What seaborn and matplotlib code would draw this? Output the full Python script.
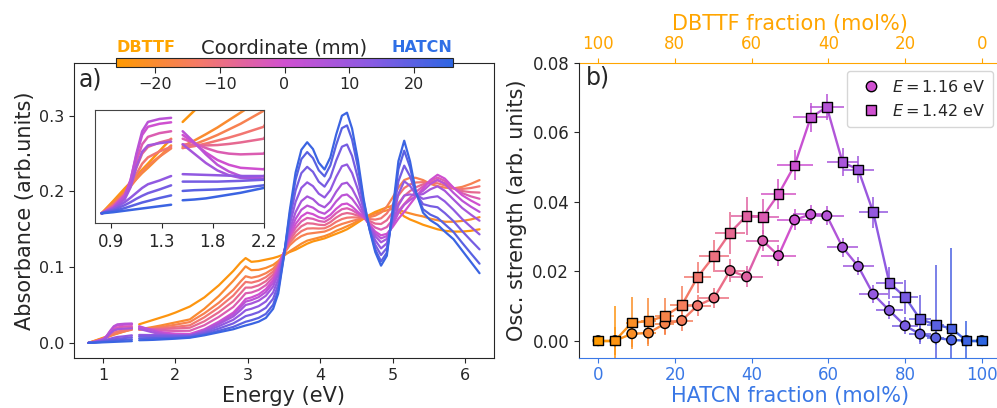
import matplotlib

matplotlib.use("Agg")

import matplotlib.pyplot as plt
import numpy as np
import pandas as pd
import seaborn as sns
from matplotlib.cm import ScalarMappable
from matplotlib.collections import LineCollection
from matplotlib.colors import LinearSegmentedColormap, Normalize
from matplotlib.lines import Line2D

# ---- panel a: absorbance spectra ----
energy_low = [0.80, 0.90, 1.00, 1.05, 1.10, 1.15, 1.20, 1.30, 1.40]
energy_high = [1.50, 1.60, 1.70, 1.80, 1.90, 2.00, 2.20,
               2.40, 2.60, 2.80, 2.90, 2.97, 3.05, 3.15,
               3.25, 3.35, 3.42, 3.50, 3.58, 3.66, 3.74,
               3.82, 3.90, 3.98, 4.06, 4.14, 4.22, 4.30,
               4.37, 4.44, 4.52, 4.60, 4.68, 4.76, 4.84,
               4.92, 5.00, 5.08, 5.16, 5.24, 5.32, 5.42,
               5.52, 5.62, 5.72, 5.84, 5.96, 6.08, 6.20]
coordinates = [-24, -20, -16, -12, -8, -4, 0, 4, 8, 12, 16, 20, 24]

abs_m24 = [0.000, 0.0033, 0.0067, 0.0083, 0.0100, 0.0117, 0.0133, 0.0167, 0.0200,
           0.0245, 0.0275, 0.0305, 0.0335, 0.0365, 0.0400, 0.0480,
           0.0600, 0.0760, 0.0950, 0.1060, 0.1120, 0.1070, 0.1080,
           0.1100, 0.1120, 0.1140, 0.1170, 0.1200, 0.1230, 0.1270,
           0.1310, 0.1340, 0.1360, 0.1380, 0.1410, 0.1440, 0.1470,
           0.1500, 0.1540, 0.1590, 0.1640, 0.1690, 0.1730, 0.1760,
           0.1790, 0.1810, 0.1740, 0.1670, 0.1630, 0.1600, 0.1560,
           0.1530, 0.1500, 0.1480, 0.1470, 0.1470, 0.1480, 0.1500]
abs_m20 = [0.000, 0.0030, 0.0060, 0.0076, 0.0092, 0.0108, 0.0122, 0.0152, 0.0182,
           0.0180, 0.0195, 0.0212, 0.0230, 0.0250, 0.0270, 0.0310,
           0.0450, 0.0620, 0.0820, 0.0930, 0.1010, 0.0960, 0.0965,
           0.0990, 0.1030, 0.1080, 0.1150, 0.1210, 0.1260, 0.1310,
           0.1350, 0.1370, 0.1390, 0.1410, 0.1440, 0.1480, 0.1510,
           0.1540, 0.1570, 0.1610, 0.1650, 0.1680, 0.1710, 0.1730,
           0.1750, 0.1770, 0.1760, 0.1730, 0.1710, 0.1690, 0.1670,
           0.1640, 0.1620, 0.1600, 0.1600, 0.1610, 0.1630, 0.1660]
abs_m16 = [0.000, 0.0025, 0.0055, 0.0072, 0.0092, 0.0112, 0.0128, 0.0152, 0.0174,
           0.0175, 0.0185, 0.0197, 0.0210, 0.0225, 0.0240, 0.0275,
           0.0390, 0.0530, 0.0700, 0.0810, 0.0880, 0.0860, 0.0880,
           0.0920, 0.0980, 0.1060, 0.1180, 0.1290, 0.1360, 0.1410,
           0.1440, 0.1450, 0.1460, 0.1470, 0.1500, 0.1540, 0.1570,
           0.1590, 0.1610, 0.1630, 0.1650, 0.1660, 0.1680, 0.1720,
           0.1800, 0.1920, 0.2050, 0.2150, 0.2180, 0.2180, 0.2150,
           0.2100, 0.2070, 0.2050, 0.2040, 0.2060, 0.2100, 0.2150]
abs_m12 = [0.000, 0.0022, 0.0052, 0.0075, 0.0105, 0.0133, 0.0150, 0.0166, 0.0178,
           0.0175, 0.0180, 0.0187, 0.0195, 0.0203, 0.0212, 0.0232,
           0.0338, 0.0468, 0.0625, 0.0733, 0.0805, 0.0795, 0.0820,
           0.0868, 0.0943, 0.1040, 0.1185, 0.1323, 0.1413, 0.1475,
           0.1510, 0.1513, 0.1510, 0.1513, 0.1548, 0.1598, 0.1635,
           0.1653, 0.1658, 0.1655, 0.1653, 0.1635, 0.1628, 0.1645,
           0.1710, 0.1823, 0.1948, 0.2045, 0.2093, 0.2118, 0.2123,
           0.2113, 0.2108, 0.2080, 0.2043, 0.2033, 0.2045, 0.2068]
abs_m8 = [0.000, 0.0020, 0.0050, 0.0080, 0.0122, 0.0160, 0.0178, 0.0190, 0.0198,
          0.0185, 0.0183, 0.0182, 0.0183, 0.0186, 0.0190, 0.0200,
          0.0285, 0.0405, 0.0550, 0.0655, 0.0730, 0.0730, 0.0760,
          0.0815, 0.0905, 0.1020, 0.1190, 0.1355, 0.1465, 0.1540,
          0.1580, 0.1575, 0.1560, 0.1555, 0.1595, 0.1655, 0.1700,
          0.1715, 0.1705, 0.1680, 0.1655, 0.1610, 0.1575, 0.1570,
          0.1620, 0.1725, 0.1845, 0.1940, 0.2005, 0.2055, 0.2095,
          0.2125, 0.2145, 0.2110, 0.2045, 0.2005, 0.1990, 0.1985]
abs_m4 = [0.000, 0.0018, 0.0050, 0.0085, 0.0140, 0.0185, 0.0205, 0.0215, 0.0220,
          0.0200, 0.0188, 0.0175, 0.0165, 0.0160, 0.0158, 0.0160,
          0.0233, 0.0343, 0.0475, 0.0578, 0.0655, 0.0665, 0.0700,
          0.0763, 0.0868, 0.1000, 0.1195, 0.1388, 0.1518, 0.1605,
          0.1650, 0.1638, 0.1610, 0.1598, 0.1643, 0.1713, 0.1765,
          0.1778, 0.1753, 0.1705, 0.1658, 0.1585, 0.1523, 0.1495,
          0.1530, 0.1628, 0.1743, 0.1835, 0.1918, 0.1993, 0.2068,
          0.2138, 0.2183, 0.2140, 0.2048, 0.1978, 0.1935, 0.1903]
abs_0 = [0.000, 0.0016, 0.0048, 0.0090, 0.0155, 0.0210, 0.0232, 0.0240, 0.0244,
         0.0210, 0.0188, 0.0163, 0.0143, 0.0130, 0.0122, 0.0118,
         0.0180, 0.0280, 0.0400, 0.0500, 0.0580, 0.0600, 0.0640,
         0.0710, 0.0830, 0.0980, 0.1200, 0.1420, 0.1570, 0.1670,
         0.1720, 0.1700, 0.1660, 0.1640, 0.1690, 0.1770, 0.1830,
         0.1840, 0.1800, 0.1730, 0.1660, 0.1560, 0.1470, 0.1420,
         0.1440, 0.1530, 0.1640, 0.1730, 0.1830, 0.1930, 0.2040,
         0.2150, 0.2220, 0.2170, 0.2050, 0.1950, 0.1880, 0.1820]
abs_p4 = [0.000, 0.0015, 0.0045, 0.0088, 0.0160, 0.0220, 0.0245, 0.0253, 0.0256,
          0.0220, 0.0190, 0.0158, 0.0130, 0.0112, 0.0100, 0.0093,
          0.0172, 0.0266, 0.0378, 0.0471, 0.0545, 0.0565, 0.0604,
          0.0672, 0.0792, 0.0947, 0.1195, 0.1453, 0.1638, 0.1758,
          0.1813, 0.1786, 0.1732, 0.1705, 0.1766, 0.1868, 0.1947,
          0.1960, 0.1903, 0.1799, 0.1684, 0.1554, 0.1443, 0.1380,
          0.1411, 0.1552, 0.1716, 0.1824, 0.1887, 0.1937, 0.2008,
          0.2097, 0.2154, 0.2100, 0.1982, 0.1877, 0.1799, 0.1730]
abs_p8 = [0.000, 0.0013, 0.0038, 0.0070, 0.0125, 0.0165, 0.0182, 0.0188, 0.0192,
          0.0185, 0.0160, 0.0135, 0.0115, 0.0102, 0.0095, 0.0090,
          0.0162, 0.0248, 0.0349, 0.0433, 0.0500, 0.0520, 0.0557,
          0.0623, 0.0743, 0.0904, 0.1189, 0.1496, 0.1726, 0.1872,
          0.1934, 0.1898, 0.1826, 0.1790, 0.1865, 0.1995, 0.2099,
          0.2116, 0.2037, 0.1889, 0.1715, 0.1546, 0.1408, 0.1328,
          0.1373, 0.1581, 0.1815, 0.1946, 0.1961, 0.1946, 0.1966,
          0.2028, 0.2068, 0.2009, 0.1894, 0.1782, 0.1694, 0.1613]
abs_p12 = [0.000, 0.0012, 0.0030, 0.0042, 0.0055, 0.0068, 0.0078, 0.0088, 0.0100,
           0.0105, 0.0104, 0.0103, 0.0102, 0.0101, 0.0100, 0.0100,
           0.0146, 0.0220, 0.0305, 0.0375, 0.0430, 0.0450, 0.0485,
           0.0547, 0.0667, 0.0838, 0.1179, 0.1562, 0.1862, 0.2048,
           0.2120, 0.2070, 0.1970, 0.1920, 0.2017, 0.2191, 0.2333,
           0.2356, 0.2243, 0.2027, 0.1763, 0.1534, 0.1354, 0.1248,
           0.1315, 0.1625, 0.1967, 0.2134, 0.2075, 0.1960, 0.1902,
           0.1922, 0.1936, 0.1869, 0.1758, 0.1636, 0.1532, 0.1433]
abs_p16 = [0.000, 0.0009, 0.0022, 0.0030, 0.0039, 0.0047, 0.0054, 0.0064, 0.0075,
           0.0085, 0.0085, 0.0085, 0.0085, 0.0086, 0.0087, 0.0090,
           0.0128, 0.0189, 0.0257, 0.0312, 0.0353, 0.0373, 0.0406,
           0.0463, 0.0583, 0.0766, 0.1168, 0.1635, 0.2012, 0.2242,
           0.2325, 0.2259, 0.2128, 0.2063, 0.2184, 0.2407, 0.2591,
           0.2620, 0.2470, 0.2179, 0.1816, 0.1521, 0.1295, 0.1160,
           0.1252, 0.1673, 0.2134, 0.2341, 0.2201, 0.1976, 0.1832,
           0.1806, 0.1791, 0.1715, 0.1608, 0.1476, 0.1354, 0.1235]
abs_p20 = [0.000, 0.0006, 0.0014, 0.0019, 0.0024, 0.0029, 0.0033, 0.0041, 0.0048,
           0.0060, 0.0062, 0.0063, 0.0064, 0.0066, 0.0068, 0.0075,
           0.0111, 0.0160, 0.0211, 0.0251, 0.0279, 0.0299, 0.0330,
           0.0383, 0.0503, 0.0696, 0.1157, 0.1704, 0.2155, 0.2427,
           0.2520, 0.2440, 0.2279, 0.2199, 0.2344, 0.2613, 0.2836,
           0.2872, 0.2686, 0.2323, 0.1866, 0.1508, 0.1238, 0.1076,
           0.1191, 0.1719, 0.2294, 0.2538, 0.2320, 0.1990, 0.1765,
           0.1694, 0.1652, 0.1568, 0.1465, 0.1322, 0.1183, 0.1046]
abs_p24 = [0.000, 0.0003, 0.0007, 0.0009, 0.0011, 0.0013, 0.0015, 0.0019, 0.0023,
           0.0035, 0.0037, 0.0040, 0.0045, 0.0050, 0.0055, 0.0068,
           0.0100, 0.0140, 0.0180, 0.0210, 0.0230, 0.0250, 0.0280,
           0.0330, 0.0450, 0.0650, 0.1150, 0.1750, 0.2250, 0.2550,
           0.2650, 0.2560, 0.2380, 0.2290, 0.2450, 0.2750, 0.3000,
           0.3040, 0.2830, 0.2420, 0.1900, 0.1500, 0.1200, 0.1020,
           0.1150, 0.1750, 0.2400, 0.2670, 0.2400, 0.2000, 0.1720,
           0.1620, 0.1560, 0.1470, 0.1370, 0.1220, 0.1070, 0.0920]

# ---- panel b: oscillator strengths ----
hatcn_fraction = [0.0, 4.4, 8.8, 13.1, 17.4, 21.8, 25.9, 30.2, 34.4, 38.7, 42.9, 47.0,
                  51.2, 55.4, 59.6, 63.7, 67.8, 71.7, 75.9, 80.0, 83.9, 88.0, 92.1, 96.0, 100.0]
fraction_err = [0.0, 0.6, 1.5, 2.0, 2.5, 3.0, 3.5, 3.8, 3.9, 4.2, 4.3, 4.5,
                4.7, 4.6, 4.4, 4.1, 4.0, 3.8, 3.6, 3.3, 2.8, 2.2, 1.5, 0.8, 0.0]
osc_116 = [0.0, 0.0, 0.0020, 0.0022, 0.0049, 0.0058, 0.0101, 0.0123, 0.0202, 0.0184,
           0.0288, 0.0245, 0.0348, 0.0364, 0.0360, 0.0269, 0.0214, 0.0134, 0.0087,
           0.0043, 0.0019, 0.0008, 0.0002, 0.0, 0.0]
osc_116_err = [0.0, 0.0040, 0.0038, 0.0038, 0.0032, 0.0030, 0.0030, 0.0030, 0.0032, 0.0030,
               0.0030, 0.0030, 0.0030, 0.0028, 0.0028, 0.0028, 0.0026, 0.0026, 0.0026,
               0.0024, 0.0022, 0.0020, 0.0018, 0.0, 0.0]
osc_142 = [0.0, 0.0, 0.0052, 0.0056, 0.0071, 0.0102, 0.0183, 0.0244, 0.0311, 0.0360,
           0.0357, 0.0422, 0.0505, 0.0643, 0.0673, 0.0514, 0.0493, 0.0370, 0.0166,
           0.0126, 0.0062, 0.0046, 0.0035, 0.0, 0.0]
osc_142_err = [0.0, 0.0100, 0.0075, 0.0066, 0.0052, 0.0055, 0.0045, 0.0045, 0.0060, 0.0055,
               0.0050, 0.0043, 0.0043, 0.0043, 0.0038, 0.0041, 0.0040, 0.0045, 0.0045,
               0.0048, 0.0071, 0.0173, 0.0233, 0.0056, 0.0]

spectra = [abs_m24, abs_m20, abs_m16, abs_m12, abs_m8, abs_m4, abs_0,
           abs_p4, abs_p8, abs_p12, abs_p16, abs_p20, abs_p24]

ORANGE = "#ffa500"
BLUE = "#3a78e6"
cmap = LinearSegmentedColormap.from_list(
    "dbttf_hatcn", ["#ff9a00", "#f4796a", "#d050d0", "#8c5ae2", "#2e66e2"]
)
coord_norm = Normalize(-26, 26)
frac_norm = Normalize(0, 100)

rows = []
n_low = len(energy_low)
for coord, values in zip(coordinates, spectra):
    for i, value in enumerate(values):
        if i < n_low:
            rows.append((coord, 0, energy_low[i], value))
        else:
            rows.append((coord, 1, energy_high[i - n_low], value))
spectra_df = pd.DataFrame(rows, columns=["coordinate", "segment", "energy", "absorbance"])

sns.set_style("ticks")
plt.rcParams["font.family"] = ["DejaVu Sans"]

fig = plt.figure(figsize=(9.97, 4.08), dpi=100)
ax_a = fig.add_axes([0.0742, 0.1225, 0.4213, 0.7238])
ax_in = fig.add_axes([0.095, 0.4534, 0.1695, 0.277])
cax = fig.add_axes([0.1164, 0.8358, 0.338, 0.022])
ax_b = fig.add_axes([0.5807, 0.1225, 0.4233, 0.7231])

for axis in (ax_a, ax_in):
    sns.lineplot(
        data=spectra_df,
        x="energy",
        y="absorbance",
        hue="coordinate",
        hue_order=coordinates[::-1],
        units="segment",
        estimator=None,
        palette=cmap,
        hue_norm=coord_norm,
        legend=False,
        linewidth=1.6 if axis is ax_a else 1.8,
        ax=axis,
    )

ax_a.set_xlim(0.6, 6.4)
ax_a.set_ylim(-0.02, 0.37)
ax_a.set_xticks([1, 2, 3, 4, 5, 6])
ax_a.set_yticks([0.0, 0.1, 0.2, 0.3])
ax_a.set_xlabel("Energy (eV)", fontsize=15, labelpad=2)
ax_a.set_ylabel("Absorbance (arb.units)", fontsize=15, labelpad=3)
ax_a.tick_params(labelsize=11.5)
ax_a.text(0.012, 0.985, "a)", transform=ax_a.transAxes, fontsize=17, va="top", ha="left")

ax_in.set_xlim(0.74, 2.2)
ax_in.set_ylim(-0.0026, 0.0277)
ax_in.set_xticks([0.88, 1.32, 1.76, 2.2])
ax_in.set_xticklabels(["0.9", "1.3", "1.8", "2.2"])
ax_in.set_yticks([])
ax_in.set_xlabel("")
ax_in.set_ylabel("")
ax_in.tick_params(labelsize=12)
for spine in ax_in.spines.values():
    spine.set_color("#444444")

cbar = fig.colorbar(ScalarMappable(norm=coord_norm, cmap=cmap), cax=cax, orientation="horizontal")
cbar.set_ticks([-20, -10, 0, 10, 20])
cax.tick_params(labelsize=11.5, length=4)
cax.xaxis.set_label_position("top")
cax.set_xlabel("Coordinate (mm)", fontsize=14, labelpad=3)
fig.text(146 / 997, 1 - 47 / 408, "DBTTF", color=ORANGE, fontsize=11.5,
         fontweight="bold", ha="center", va="center")
fig.text(422 / 997, 1 - 47 / 408, "HATCN", color="#2f6fe6", fontsize=11.5,
         fontweight="bold", ha="center", va="center")

# ---- panel b ----
x = np.array(hatcn_fraction)
point_colors = cmap(frac_norm(x))
for y, yerr, marker in ((osc_116, osc_116_err, "o"), (osc_142, osc_142_err, "s")):
    y = np.array(y)
    ax_b.vlines(x, y - np.array(yerr), y + np.array(yerr), colors=point_colors,
                linewidth=1.4, alpha=0.8, zorder=1)
    ax_b.hlines(y, x - np.array(fraction_err), x + np.array(fraction_err),
                colors=point_colors, linewidth=1.4, alpha=0.8, zorder=1)
    points = np.column_stack([x, y])
    segments = np.stack([points[:-1], points[1:]], axis=1)
    mids = (x[:-1] + x[1:]) / 2
    ax_b.add_collection(LineCollection(segments, colors=cmap(frac_norm(mids)),
                                       linewidth=1.7, zorder=2))
    sns.scatterplot(x=x, y=y, hue=x, palette=cmap, hue_norm=frac_norm, marker=marker,
                    s=48, edgecolor="black", linewidth=1.0, legend=False, zorder=3, ax=ax_b)

ax_b.set_xlim(-5, 105)
ax_b.set_ylim(-0.005, 0.08)
ax_b.set_xticks([0, 20, 40, 60, 80, 100])
ax_b.set_yticks([0.00, 0.02, 0.04, 0.06, 0.08])
ax_b.set_ylabel("Osc. strength (arb. units)", fontsize=15)
ax_b.set_xlabel("HATCN fraction (mol%)", fontsize=15, color=BLUE, labelpad=1)
ax_b.tick_params(labelsize=12)
ax_b.tick_params(axis="x", colors=BLUE, pad=2.5)
ax_b.spines["bottom"].set_color(BLUE)
ax_b.spines["top"].set_visible(False)
ax_b.spines["right"].set_visible(False)
ax_b.text(0.017, 0.99, "b)", transform=ax_b.transAxes, fontsize=17, va="top", ha="left")

top = ax_b.secondary_xaxis("top", functions=(lambda v: 100 - v, lambda v: 100 - v))
top.set_xticks([0, 20, 40, 60, 80, 100])
top.set_xlabel("DBTTF fraction (mol%)", fontsize=15, color=ORANGE)
top.tick_params(labelsize=12, colors=ORANGE)
top.spines["top"].set_color(ORANGE)

legend_color = cmap(frac_norm(50))
handles = [
    Line2D([], [], marker="o", linestyle="none", markerfacecolor=legend_color,
           markeredgecolor="black", markersize=7.5),
    Line2D([], [], marker="s", linestyle="none", markerfacecolor=legend_color,
           markeredgecolor="black", markersize=7.5),
]
ax_b.legend(handles, [r"$E = 1.16$ eV", r"$E = 1.42$ eV"], loc="upper right",
            fontsize=11.5, handletextpad=0.3, borderpad=0.5)

fig.savefig("out.png", dpi=100)
